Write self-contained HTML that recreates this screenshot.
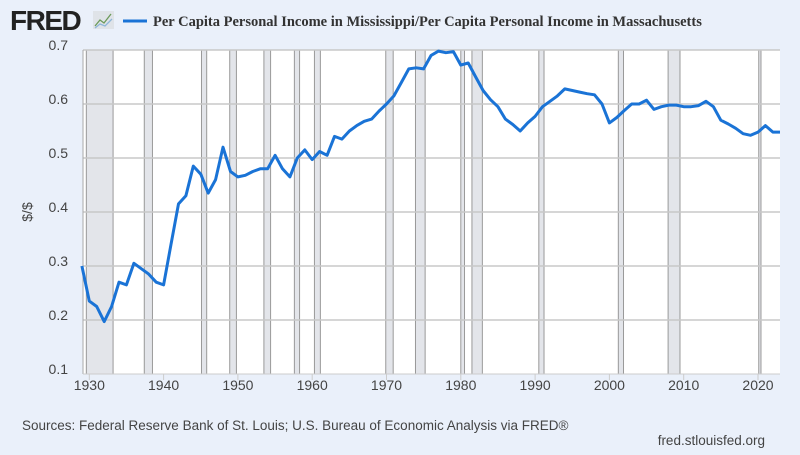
<!DOCTYPE html>
<html><head><meta charset="utf-8"><style>
body{margin:0;width:800px;height:450px;background:#eaf0fa;overflow:hidden;font-family:"Liberation Sans",sans-serif}
</style></head><body>
<svg id="s" width="800" height="450" xmlns="http://www.w3.org/2000/svg" font-family="Liberation Sans, sans-serif">
<rect x="0" y="0" width="800" height="450" fill="#eaf0fa"/>
<text x="10" y="30" font-size="28" font-weight="bold" fill="#222" letter-spacing="-1.5">FRED</text>
<rect x="93" y="11" width="21" height="18" fill="#dfe3e8"/>
<polyline points="95,26 100,20 104,23 111,14" fill="none" stroke="#6b9a5a" stroke-width="1.3"/>
<polyline points="95,28 100,24 105,26 112,19" fill="none" stroke="#8fb7d9" stroke-width="1.3"/>
<line x1="123" y1="21" x2="147" y2="21" stroke="#1a73d6" stroke-width="3"/>
<text x="153" y="26" font-family="Liberation Serif, serif" font-weight="bold" font-size="14.5" fill="#333">Per Capita Personal Income in Mississippi/Per Capita Personal Income in Massachusetts</text>
<rect x="83" y="50" width="697" height="324" fill="#fff"/>
<g id="rec"></g>
<g id="grid"></g>
<polyline id="ln" fill="none" stroke="#1a73d6" stroke-width="3" stroke-linejoin="round"/>
<g id="lab" font-size="14" fill="#444"></g>
<text x="32" y="212" font-size="14" fill="#444" transform="rotate(-90 32 212)" text-anchor="middle">$/$</text>
<text x="22" y="430" font-size="13.5" fill="#444">Sources: Federal Reserve Bank of St. Louis; U.S. Bureau of Economic Analysis via FRED®</text>
<text x="765" y="445" font-size="13.5" fill="#444" text-anchor="end">fred.stlouisfed.org</text>
</svg>
<script>
const X=y=>89.3+(y-1930)*7.43, Y=v=>50+(0.7-v)*540;
const ns="http://www.w3.org/2000/svg";
function el(t,a,p){const e=document.createElementNS(ns,t);for(const k in a)e.setAttribute(k,a[k]);document.getElementById(p).appendChild(e);return e;}
const rec=[[1929.6,1933.2],[1937.4,1938.5],[1945.1,1945.8],[1948.9,1949.8],[1953.5,1954.4],[1957.6,1958.3],[1960.3,1961.1],[1969.9,1970.9],[1973.9,1975.2],[1980,1980.5],[1981.5,1982.9],[1990.5,1991.2],[2001.2,2001.9],[2007.9,2009.5],[2020.1,2020.4]];
rec.forEach(r=>{const a=X(r[0]),b=X(r[1]);el('rect',{x:a,y:50,width:b-a,height:324,fill:'#e3e5ea',stroke:'#999','stroke-width':1},'rec');});
for(let i=1;i<=7;i++){const v=i/10,y=Y(v);if(i>1)el('line',{x1:83,x2:780,y1:y,y2:y,stroke:'#c8c8c8','stroke-width':1.5},'grid');
 el('text',{x:68,y:y,'text-anchor':'end'},'lab').textContent=v.toFixed(1);}
el('line',{x1:83,x2:83,y1:50,y2:374,stroke:'#aaa'},'grid');
el('line',{x1:83,x2:780,y1:374,y2:374,stroke:'#ccc'},'grid');
for(let d=1930;d<=2020;d+=10){const x=X(d);el('line',{x1:x,x2:x,y1:374,y2:380,stroke:'#ccc'},'grid');el('text',{x:x,y:390,'text-anchor':'middle'},'lab').textContent=d;}
const v=[0.30,0.235,0.225,0.197,0.225,0.27,0.265,0.305,0.295,0.285,0.27,0.265,0.34,0.415,0.43,0.485,0.47,0.435,0.46,0.52,0.475,0.465,0.468,0.475,0.48,0.48,0.505,0.48,0.465,0.5,0.515,0.497,0.512,0.505,0.54,0.535,0.55,0.56,0.568,0.572,0.587,0.6,0.615,0.64,0.665,0.667,0.665,0.69,0.698,0.695,0.697,0.672,0.676,0.65,0.625,0.608,0.595,0.572,0.562,0.55,0.565,0.577,0.595,0.605,0.615,0.628,0.625,0.622,0.619,0.617,0.6,0.565,0.575,0.588,0.6,0.6,0.607,0.59,0.595,0.598,0.598,0.595,0.595,0.597,0.605,0.595,0.57,0.563,0.555,0.545,0.542,0.548,0.56,0.548,0.548];
document.getElementById('ln').setAttribute('points',v.map((a,i)=>Math.min(780,X(1929+i)).toFixed(1)+','+Y(a).toFixed(1)).join(' '));
</script>
</body></html>
